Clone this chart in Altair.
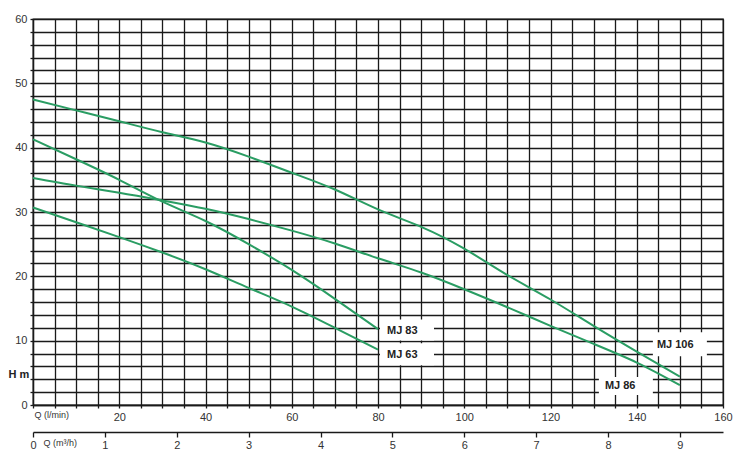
import altair as alt
import pandas as pd

# Pump curves: flow Q (l/min) vs head H (m)
mj106_q = [0, 10, 20, 30, 40, 50, 60, 70, 80, 90, 100, 110, 120, 130, 140, 150]
mj106_h = [47.5, 45.8, 44.1, 42.4, 40.8, 38.6, 36.1, 33.5, 30.4, 27.7, 24.3, 20.2, 16.4, 12.3, 8.3, 4.4]

mj86_q = [0, 10, 20, 30, 40, 50, 60, 70, 80, 90, 100, 110, 120, 130, 140, 150]
mj86_h = [35.3, 34.1, 33.0, 31.8, 30.5, 28.9, 27.1, 25.1, 22.8, 20.6, 18.0, 15.2, 12.3, 9.5, 6.6, 3.1]

mj83_q = [0, 10, 20, 30, 40, 50, 60, 70, 80]
mj83_h = [41.3, 38.2, 35.0, 31.6, 28.6, 25.0, 21.0, 16.5, 11.8]

mj63_q = [0, 10, 20, 30, 40, 50, 60, 70, 80]
mj63_h = [30.7, 28.4, 26.1, 23.7, 21.1, 18.2, 15.3, 12.0, 8.6]

series_names = ["MJ 106", "MJ 86", "MJ 83", "MJ 63"]
series_q = [mj106_q, mj86_q, mj83_q, mj63_q]
series_h = [mj106_h, mj86_h, mj83_h, mj63_h]

x_grid_values = list(range(0, 161, 5))
y_grid_values = list(range(0, 61, 2))
m3h_ticks = [0, 1, 2, 3, 4, 5, 6, 7, 8, 9]

rows = []
for name, qs, hs in zip(series_names, series_q, series_h):
    for q, h in zip(qs, hs):
        rows.append({"series": name, "Q": q, "H": h})
df = pd.DataFrame(rows)

ends = pd.DataFrame([
    {"series": n, "Q": qs[-1], "H": hs[-1]}
    for n, qs, hs in zip(series_names, series_q, series_h)
])
m3h_df = pd.DataFrame({"m3h": m3h_ticks})

FONT = "Liberation Sans"
INK = "#1a1a1a"
GREEN = "#2a9d63"

x_axis = alt.Axis(
    orient="bottom",
    values=x_grid_values, tickCount=100, format="d",
    labelExpr="datum.value % 20 == 0 && datum.value > 0 ? datum.label : ''",
    grid=True, gridColor=INK, gridWidth=1.3, gridOpacity=1,
    tickSize=3, tickColor=INK, tickWidth=1.3,
    domainColor=INK, domainWidth=1.3,
    labelFont=FONT, labelFontSize=11, labelColor="#333333", labelPadding=3,
    labelFlush=False, labelOverlap=False,
    title="Q (l/min)", titleFont=FONT, titleFontSize=9, titleFontWeight="normal",
    titleColor="#333333", titleX=1, titleY=9, titleAlign="left",
    titleAnchor="start", titleBaseline="middle",
)

y_axis = alt.Axis(
    values=y_grid_values, tickCount=100, format="d",
    labelExpr="datum.value % 10 == 0 ? datum.label : ''",
    grid=True, gridColor=INK, gridWidth=1.3, gridOpacity=1,
    tickSize=3, tickColor=INK, tickWidth=1.3,
    domainColor=INK, domainWidth=1.3,
    labelFont=FONT, labelFontSize=11, labelColor="#333333", labelPadding=3,
    labelOverlap=False, labelFlush=False,
    title="H m", titleFont=FONT, titleFontSize=11, titleFontWeight="bold",
    titleColor="#222222", titleAngle=0, titleX=-25, titleY=355,
    titleAlign="left", titleBaseline="middle",
)

x_enc = alt.X("Q:Q", scale=alt.Scale(domain=[0, 160], nice=False), axis=x_axis)
y_enc = alt.Y("H:Q", scale=alt.Scale(domain=[0, 60], nice=False), axis=y_axis)

lines = alt.Chart(df).mark_line(color=GREEN, strokeWidth=2, interpolate="natural").encode(
    x=x_enc, y=y_enc, detail="series:N"
)

label_style = {
    "MJ 83": dict(dx=9, dy=2, bx=29, by=1, bw=54, bh=21),
    "MJ 63": dict(dx=9, dy=5, bx=29, by=4.5, bw=54, bh=22),
    "MJ 106": dict(dx=-23, dy=-32, bx=0, by=-32.5, bw=54, bh=24),
    "MJ 86": dict(dx=-75, dy=1, bx=-54, by=1, bw=54, bh=18),
}

label_layers = []
for name in series_names:
    s = label_style[name]
    src = alt.Chart(ends).transform_filter(alt.datum.series == name)
    box = src.mark_rect(
        color="white", width=s["bw"], height=s["bh"], xOffset=s["bx"], yOffset=s["by"]
    ).encode(x="Q:Q", y="H:Q")
    txt = src.mark_text(
        align="left", baseline="middle", dx=s["dx"], dy=s["dy"],
        font=FONT, fontSize=11, fontWeight="bold", color="#222222"
    ).encode(x="Q:Q", y="H:Q", text="series:N")
    label_layers += [box, txt]

main = alt.layer(lines, *label_layers)

m3h_layer = alt.Chart(m3h_df).mark_point(opacity=0).encode(
    x=alt.X("m3h:Q", scale=alt.Scale(domain=[0, 9.6], nice=False),
            axis=alt.Axis(
                orient="bottom", offset=27, values=m3h_ticks, tickCount=100, format="d",
                grid=False,
                tickSize=5, tickColor=INK, tickWidth=1.3,
                domainColor=INK, domainWidth=1.3,
                labelFont=FONT, labelFontSize=11, labelColor="#333333", labelPadding=2,
                labelFlush=False, labelOverlap=False,
                title="Q (m³/h)", titleFont=FONT, titleFontSize=9, titleFontWeight="normal",
                titleColor="#333333", titleX=10, titleY=10, titleAlign="left",
                titleAnchor="start", titleBaseline="middle",
            ))
)

chart = alt.layer(main, m3h_layer).resolve_scale(x="independent").properties(
    width=690, height=386,
    autosize=alt.AutoSizeParams(type="none"),
    padding={"left": 25, "top": 11, "right": 10, "bottom": 50},
    background="white",
).configure_view(stroke=INK, strokeWidth=1.3)

chart.save("out.html", embed_options={"renderer": "svg", "actions": False})
